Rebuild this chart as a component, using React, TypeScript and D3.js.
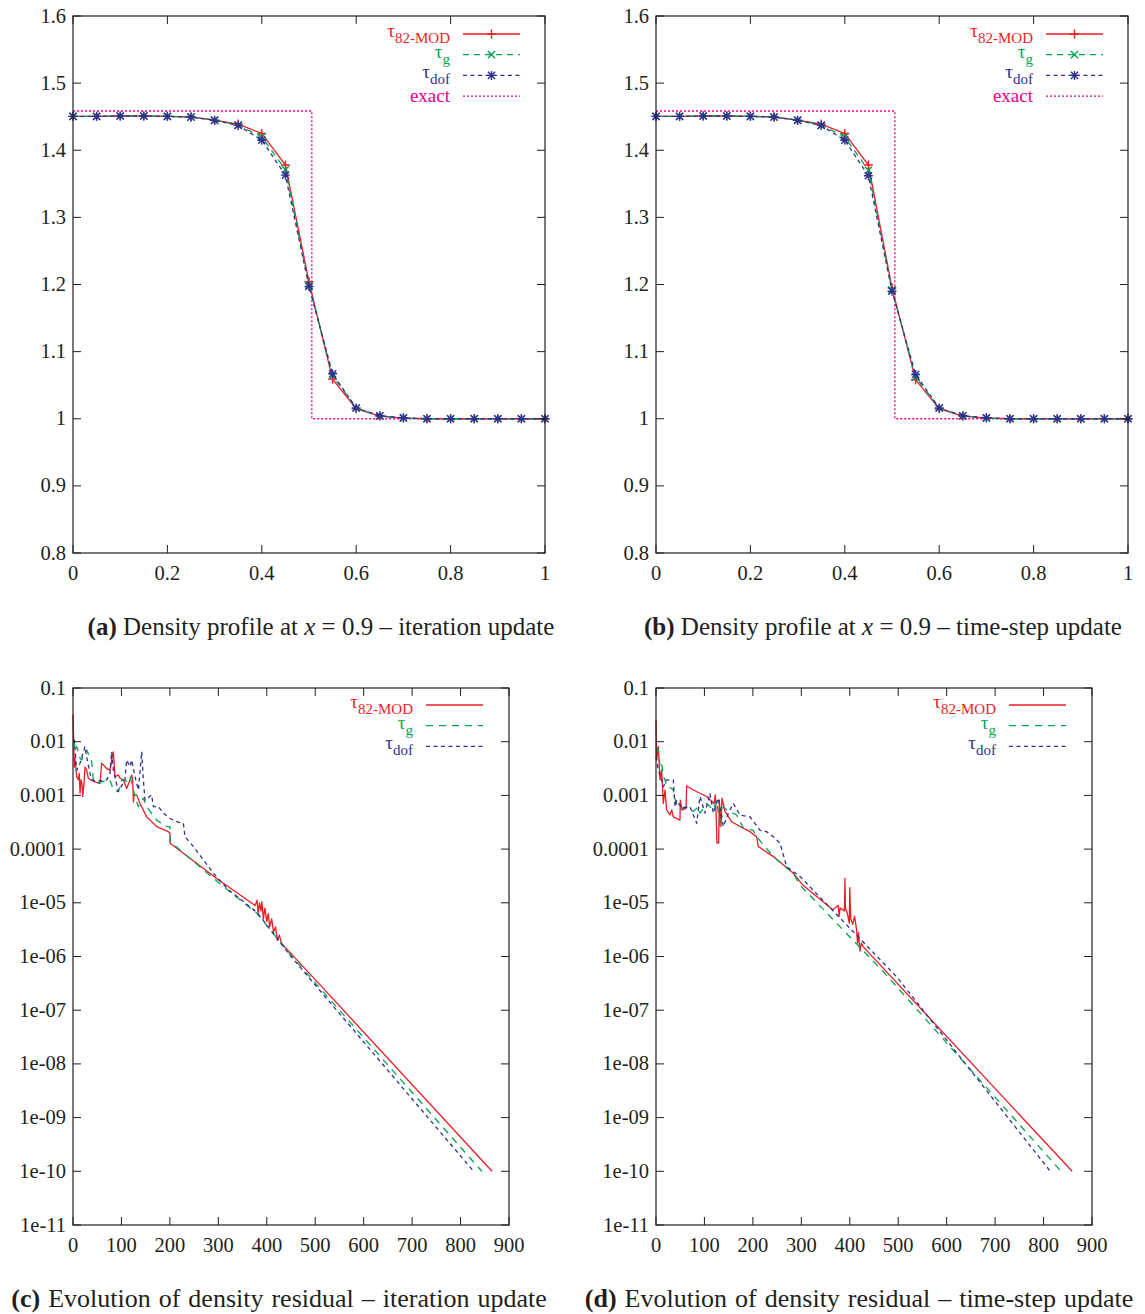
import * as d3 from 'd3';

// ---------- density profiles (panels a, b)
const profileX = [0, 0.05, 0.1, 0.15, 0.2, 0.25, 0.3, 0.35, 0.4, 0.45, 0.5, 0.55, 0.6, 0.65, 0.7, 0.75, 0.8, 0.85, 0.9, 0.95, 1];
const rhoA_mod = [1.4505, 1.4505, 1.451, 1.451, 1.4505, 1.4495, 1.4448, 1.439, 1.425, 1.378, 1.204, 1.059, 1.015, 1.004, 1.001, 1, 1, 1, 1, 1, 1];
const rhoA_g = [1.4505, 1.4505, 1.451, 1.451, 1.4505, 1.4495, 1.4448, 1.4375, 1.42, 1.371, 1.199, 1.064, 1.016, 1.004, 1.001, 1, 1, 1, 1, 1, 1];
const rhoA_dof = [1.4505, 1.4505, 1.451, 1.451, 1.4505, 1.4495, 1.4445, 1.437, 1.415, 1.363, 1.197, 1.067, 1.016, 1.0045, 1.0015, 1, 1, 1, 1, 1, 1];
const rhoB_mod = [1.4505, 1.4505, 1.451, 1.451, 1.4505, 1.4495, 1.4448, 1.439, 1.425, 1.378, 1.195, 1.058, 1.015, 1.004, 1.001, 1, 1, 1, 1, 1, 1];
const rhoB_g = [1.4505, 1.4505, 1.451, 1.451, 1.4505, 1.4495, 1.4448, 1.4375, 1.42, 1.37, 1.192, 1.062, 1.016, 1.004, 1.001, 1, 1, 1, 1, 1, 1];
const rhoB_dof = [1.4505, 1.4505, 1.451, 1.451, 1.4505, 1.4495, 1.4445, 1.437, 1.415, 1.362, 1.19, 1.066, 1.016, 1.0045, 1.0015, 1, 1, 1, 1, 1, 1];
const exactX = [0, 0.506, 0.506, 1];
const exactRho = [1.4585, 1.4585, 1, 1];

// ---------- residual histories (panels c, d): [iteration, log10(residual)]
const resC_mod = [[0, -1.5], [2.7, -2.47], [4, -2.3], [7.6, -2.65], [11, -2.71], [13, -2.59], [14.5, -2.96], [16.5, -2.71], [18.6, -2.78], [20, -3.02], [22.7, -2.78], [24.8, -2.47], [28.2, -2.53], [31.6, -2.68], [42, -2.74], [55.7, -2.78], [59.2, -2.4], [69.5, -2.5], [76.4, -2.53], [79.8, -2.34], [83.3, -2.19], [85.3, -2.47], [86.7, -2.65], [93.6, -2.62], [97, -2.68], [104, -2.71], [110.8, -2.87], [117.7, -2.71], [121.1, -2.62], [123.2, -2.71], [124.6, -3.12], [126, -2.99], [131.4, -2.99], [138.3, -3.15], [141.8, -3.21], [152, -3.4], [172.7, -3.58], [196.8, -3.675], [200.2, -3.71], [200.5, -3.89], [300, -4.57], [376, -5.05], [380, -4.95], [382, -5.2], [385, -5.0], [388, -5.15], [390, -4.98], [393, -5.3], [396, -5.1], [400, -5.35], [403, -5.2], [406, -5.45], [410, -5.3], [414, -5.55], [418, -5.45], [422, -5.7], [426, -5.6], [430, -5.75], [500, -6.43], [865, -10]];
const resC_g = [[0, -1.97], [2.7, -1.97], [4.1, -2.155], [7.6, -2.09], [14.5, -2.31], [17.9, -2.34], [21.3, -2.25], [28.2, -2.155], [38.5, -2.37], [42, -2.71], [48.8, -2.775], [62.6, -2.74], [76.4, -2.71], [83.3, -2.9], [93.6, -2.93], [100.5, -2.71], [110.8, -2.74], [117.7, -2.65], [128, -3.02], [135, -3.21], [145, -3.05], [152, -3.21], [172.7, -3.46], [193.4, -3.58], [200.2, -3.58], [200.5, -3.86], [300, -4.62], [380, -5.2], [450, -5.98], [844, -10]];
const resC_dof = [[0, -1.97], [2.7, -1.97], [7.6, -2.53], [14.5, -2.4], [24.8, -2.09], [28.2, -2.28], [35, -2.59], [38.5, -2.71], [48.8, -2.74], [69.5, -2.71], [76.4, -2.59], [79.8, -2.19], [83.3, -2.53], [93.6, -2.93], [107.3, -2.71], [110.8, -2.34], [117.7, -2.465], [121.1, -2.34], [128, -2.65], [135, -2.9], [141.8, -2.186], [145.2, -2.71], [148.7, -3.09], [162.4, -2.99], [165.9, -3.21], [176.2, -3.21], [186.5, -3.33], [200.2, -3.43], [214, -3.49], [227.8, -3.52], [231.2, -3.77], [248.4, -3.95], [289.7, -4.45], [320, -4.75], [380, -5.18], [450, -6.0], [827, -10]];
const resD_mod = [[0, -1.6], [1.4, -2.34], [4.8, -2.09], [8.3, -2.71], [11.7, -2.53], [15.1, -3.15], [18.6, -2.9], [22, -3.27], [28.9, -3.365], [32.4, -3.27], [35.8, -3.4], [49.5, -3.46], [50.2, -3.09], [53.7, -3.27], [61.9, -3.24], [63.3, -2.825], [77, -2.9], [104.5, -3.02], [119.7, -3.15], [122.5, -2.99], [124.5, -3.46], [125.9, -3.89], [129.3, -3.89], [130.7, -3.09], [134.1, -3.58], [136.2, -3.05], [142.4, -3.3], [156.1, -3.49], [173.4, -3.58], [194, -3.675], [207.8, -3.77], [211.2, -3.95], [242.2, -4.14], [283.5, -4.45], [303, -4.67], [365, -5.13], [376, -5.05], [378, -5.25], [380, -5.1], [389, -5.15], [390, -4.54], [391, -5.1], [395, -5.2], [399, -5.38], [400, -4.72], [402, -5.3], [406, -5.4], [410, -5.25], [414, -5.5], [416, -5.75], [418, -5.55], [421, -5.9], [424, -5.75], [428, -5.82], [859, -10]];
const resD_g = [[0, -2.09], [4.8, -2.155], [8.3, -2.465], [11.7, -2.4], [15.1, -2.65], [18.6, -2.71], [22, -2.84], [32.4, -2.87], [35.8, -2.9], [42.7, -3.21], [53, -3.24], [63.3, -3.21], [77, -3.3], [87.4, -3.21], [90.8, -3.33], [104.5, -3.15], [118.3, -3.27], [125.2, -3.09], [132, -3.58], [138.9, -3.21], [145.8, -3.27], [166.4, -3.365], [180.2, -3.61], [200.8, -3.65], [207.8, -3.77], [242.2, -4.14], [283.5, -4.45], [297, -4.67], [469, -6.28], [836, -10]];
const resD_dof = [[0, -2.28], [4.8, -2.527], [11.7, -2.71], [15.1, -2.84], [22, -2.71], [35.8, -2.71], [39.2, -3.21], [42.7, -3.09], [53, -3.24], [70.2, -3.21], [84, -3.52], [90.8, -3.02], [101.2, -3.33], [111.5, -2.96], [118.3, -3.33], [128.6, -3.05], [139, -3.58], [149.3, -3.33], [159.6, -3.15], [173.4, -3.365], [194, -3.4], [214.7, -3.65], [228.5, -3.675], [242.2, -3.77], [256, -3.89], [269.8, -4.33], [297.3, -4.51], [497, -6.38], [814, -10]];

// ---------- ticks
const profileXTicks = [0, 0.2, 0.4, 0.6, 0.8, 1];
const profileYTicks = [0.8, 0.9, 1, 1.1, 1.2, 1.3, 1.4, 1.5, 1.6];
const resXTicks = [0, 100, 200, 300, 400, 500, 600, 700, 800, 900];
const resYTicks = [1e-11, 1e-10, 1e-9, 1e-8, 1e-7, 1e-6, 1e-5, 1e-4, 1e-3, 1e-2, 1e-1];
const resYLabels = ['1e-11', '1e-10', '1e-09', '1e-08', '1e-07', '1e-06', '1e-05', '0.0001', '0.001', '0.01', '0.1'];

const RED = '#ed1c24';
const GREEN = '#00a651';
const BLUE = '#2e3192';
const MAGENTA = '#ec008c';
const FONT = '"Liberation Serif", "Times New Roman", serif';
const INK = '#231f20';

function Marker({ kind, cx, cy, color }: { kind: string; cx: number; cy: number; color: string }) {
  const s = 4.5;
  const d = 3.6;
  let p = '';
  if (kind === 'plus') p = `M${cx - s},${cy}H${cx + s}M${cx},${cy - s}V${cy + s}`;
  if (kind === 'cross') p = `M${cx - d},${cy - d}L${cx + d},${cy + d}M${cx - d},${cy + d}L${cx + d},${cy - d}`;
  if (kind === 'star') p = `M${cx - s},${cy}H${cx + s}M${cx},${cy - s}V${cy + s}M${cx - d},${cy - d}L${cx + d},${cy + d}M${cx - d},${cy + d}L${cx + d},${cy - d}`;
  return <path d={p} stroke={color} strokeWidth={1.4} fill="none" />;
}

function Frame({ x, y, xTicks, yTicks, xLabels, yLabels }: any) {
  const [x0, x1] = x.range();
  const [y0, y1] = y.range(); // y0 bottom, y1 top
  const tl = 8;
  return (
    <g fontFamily={FONT} fontSize={20.5} fill={INK}>
      {xTicks.map((t: number, i: number) => (
        <g key={'x' + i}>
          <line x1={x(t)} x2={x(t)} y1={y0} y2={y0 - tl} stroke={INK} strokeWidth={1} />
          <line x1={x(t)} x2={x(t)} y1={y1} y2={y1 + tl} stroke={INK} strokeWidth={1} />
          <text x={x(t)} y={y0 + 27} textAnchor="middle">{xLabels[i]}</text>
        </g>
      ))}
      {yTicks.map((t: number, i: number) => (
        <g key={'y' + i}>
          <line x1={x0} x2={x0 + tl} y1={y(t)} y2={y(t)} stroke={INK} strokeWidth={1} />
          <line x1={x1} x2={x1 - tl} y1={y(t)} y2={y(t)} stroke={INK} strokeWidth={1} />
          <text x={x0 - 7} y={y(t) + 6.5} textAnchor="end">{yLabels[i]}</text>
        </g>
      ))}
      <rect x={x0} y={y1} width={x1 - x0} height={y0 - y1} fill="none" stroke={INK} strokeWidth={1.2} />
    </g>
  );
}

function Legend({ right, top, rows }: { right: number; top: number; rows: any[] }) {
  const lx1 = right + 13;
  const lx2 = right + 70;
  return (
    <g fontFamily={FONT}>
      {rows.map((r, i) => {
        const ly = top + i * 20.7;
        return (
          <g key={i}>
            {r.sub !== undefined ? (
              <text x={right} y={ly + 3} textAnchor="end" fill={r.color} fontSize={19}>
                <tspan>τ</tspan>
                <tspan dy={6} fontSize={15}>{r.sub}</tspan>
              </text>
            ) : (
              <text x={right} y={ly + 6} textAnchor="end" fill={r.color} fontSize={19}>{r.label}</text>
            )}
            <line x1={lx1} x2={lx2} y1={ly} y2={ly} stroke={r.color} strokeWidth={1.3} strokeDasharray={r.dash} />
            {r.marker && <Marker kind={r.marker} cx={(lx1 + lx2) / 2} cy={ly} color={r.color} />}
          </g>
        );
      })}
    </g>
  );
}

function ProfilePanel({ left, mod, g, dof }: { left: number; mod: number[]; g: number[]; dof: number[] }) {
  const top = 16;
  const x = d3.scaleLinear().domain([0, 1]).range([left, left + 472]);
  const y = d3.scaleLinear().domain([0.8, 1.6]).range([553, top]);
  const line = d3.line<number>().x((_, i) => x(profileX[i])).y((d) => y(d));
  const exactLine = d3.line<number>().x((_, i) => x(exactX[i])).y((d) => y(d));
  const series = [
    { data: mod, color: RED, dash: undefined, marker: 'plus' },
    { data: g, color: GREEN, dash: '6,5', marker: 'cross' },
    { data: dof, color: BLUE, dash: '4,3.5', marker: 'star' },
  ];
  return (
    <g>
      <path d={exactLine(exactRho) || ''} fill="none" stroke={MAGENTA} strokeWidth={1.3} strokeDasharray="2,2" />
      {series.map((s, k) => (
        <g key={k}>
          <path d={line(s.data) || ''} fill="none" stroke={s.color} strokeWidth={1.3} strokeDasharray={s.dash} />
          {s.data.map((v, i) => (
            <Marker key={i} kind={s.marker} cx={x(profileX[i])} cy={y(v)} color={s.color} />
          ))}
        </g>
      ))}
      <Frame x={x} y={y} xTicks={profileXTicks} yTicks={profileYTicks}
        xLabels={profileXTicks.map((t) => String(t))} yLabels={profileYTicks.map((t) => String(t))} />
      <Legend right={left + 377} top={34} rows={[
        { sub: '82-MOD', color: RED, marker: 'plus' },
        { sub: 'g', color: GREEN, dash: '6,5', marker: 'cross' },
        { sub: 'dof', color: BLUE, dash: '4,3.5', marker: 'star' },
        { label: 'exact', color: MAGENTA, dash: '2,2' },
      ]} />
    </g>
  );
}

function ResidualPanel({ left, mod, g, dof }: { left: number; mod: number[][]; g: number[][]; dof: number[][] }) {
  const x = d3.scaleLinear().domain([0, 900]).range([left, left + 436]);
  const y = d3.scaleLog().domain([1e-11, 0.1]).range([1225, 688]);
  const line = d3.line<number[]>().x((d) => x(d[0])).y((d) => y(Math.pow(10, d[1])));
  const series = [
    { data: mod, color: RED, dash: undefined },
    { data: g, color: GREEN, dash: '7,6' },
    { data: dof, color: BLUE, dash: '4,3.5' },
  ];
  return (
    <g>
      {series.map((s, k) => (
        <path key={k} d={line(s.data) || ''} fill="none" stroke={s.color} strokeWidth={1.3} strokeDasharray={s.dash} strokeLinejoin="round" />
      ))}
      <Frame x={x} y={y} xTicks={resXTicks} yTicks={resYTicks}
        xLabels={resXTicks.map((t) => String(t))} yLabels={resYLabels} />
      <Legend right={left + 340} top={705} rows={[
        { sub: '82-MOD', color: RED },
        { sub: 'g', color: GREEN, dash: '7,6' },
        { sub: 'dof', color: BLUE, dash: '4,3.5' },
      ]} />
    </g>
  );
}

function Caption({ cx, y, tag, pre, italic, post, size, ws }: any) {
  return (
    <text x={cx} y={y} textAnchor="middle" fontFamily={FONT} fontSize={size || 25} fill={INK} style={{ wordSpacing: ws || 0 }}>
      <tspan fontWeight="bold">{tag}</tspan>
      <tspan>{pre}</tspan>
      {italic && <tspan fontStyle="italic">{italic}</tspan>}
      <tspan>{post}</tspan>
    </text>
  );
}

export default function App() {
  return (
    <svg width={1145} height={1314} style={{ position: 'absolute', left: 0, top: 0, background: '#fff' }}>
      <ProfilePanel left={73} mod={rhoA_mod} g={rhoA_g} dof={rhoA_dof} />
      <ProfilePanel left={656} mod={rhoB_mod} g={rhoB_g} dof={rhoB_dof} />
      <ResidualPanel left={73} mod={resC_mod} g={resC_g} dof={resC_dof} />
      <ResidualPanel left={656} mod={resD_mod} g={resD_g} dof={resD_dof} />
      <Caption cx={321} y={635} tag="(a)" pre=" Density profile at " italic="x" post=" = 0.9 – iteration update" />
      <Caption cx={883} y={635} tag="(b)" pre=" Density profile at " italic="x" post=" = 0.9 – time-step update" />
      <Caption cx={279} y={1307} size={26} ws={1.5} tag="(c)" pre=" Evolution of density residual – iteration update" />
      <Caption cx={859} y={1307} size={26} ws={1.5} tag="(d)" pre=" Evolution of density residual – time-step update" />
    </svg>
  );
}
